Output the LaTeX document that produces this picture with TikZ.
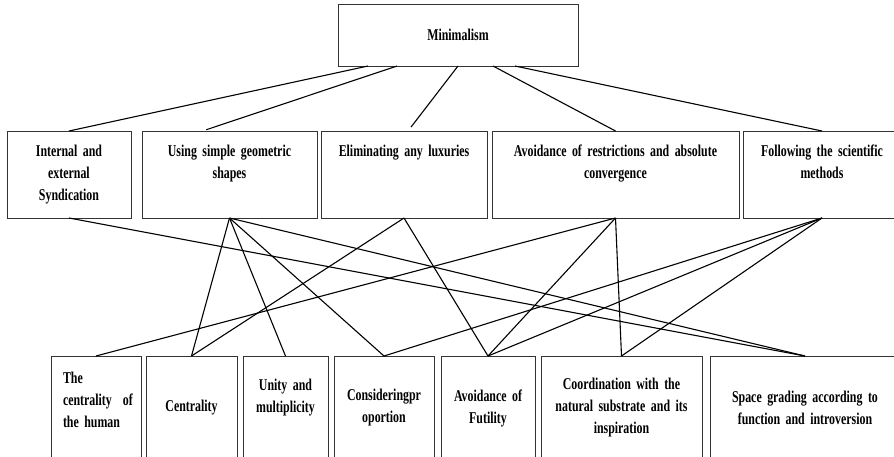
\documentclass[tikz,border=0pt]{standalone}
\usepackage{fontspec}
\setmainfont{Liberation Serif}[FakeStretch=0.72]
\usetikzlibrary{positioning}

\begin{document}
\begin{tikzpicture}[x=1pt, y=-1pt, node distance=5pt,
    every node/.style={draw=black!80, line width=0.8pt, inner sep=4pt, outer sep=0pt,
      font=\fontsize{16.5}{22}\selectfont\bfseries, align=center},
    midbox/.style={anchor=north west, inner ysep=13pt, text height=12pt, text depth=49pt},
    lowbox/.style={anchor=north west, minimum height=104pt},
    link/.style={line width=1.1pt, black}]
        \useasboundingbox (0,0) rectangle (894,456);

        % Root
        \node (mini) [minimum width=240pt, minimum height=62pt] at (458,35) {Minimalism};

        % Principles
        \node (internal) [midbox, text width=116pt] at (7,131) {Internal and\\ external\\ Syndication};
        \node (using) [midbox, text width=167pt, right=11pt of internal] {Using simple geometric\\ shapes};
        \node (elim) [midbox, text width=158pt, right=4pt of using] {Eliminating any luxuries};
        \node (avoid) [midbox, text width=239pt, right=5pt of elim] {Avoidance of restrictions and absolute\\ convergence};
        \node (follow) [midbox, text width=150pt, right=4pt of avoid] {Following the scientific\\ methods};

        % Features
        \node (human) [lowbox, text width=66pt, inner xsep=12pt, align=left,
          inner ysep=15pt, text height=12pt, text depth=62pt] at (51,356) {The\\ centrality~~of\\ the human};
        \node (central) [lowbox, text width=83pt, right=5pt of human] {Centrality};
        \node (unity) [lowbox, text width=77pt, right=6pt of central,
          inner ysep=10pt, text height=24pt, text depth=60pt] {Unity and\\ multiplicity};
        \node (consid) [lowbox, text width=92pt, right=6pt of unity] {Consideringpr\\ oportion};
        \node (futil) [lowbox, text width=86pt, right=7pt of consid] {Avoidance of\\ Futility};
        \node (coord) [lowbox, text width=153pt, right=6pt of futil] {Coordination with the\\ natural substrate and its\\ inspiration};
        \node (space) [lowbox, text width=182pt, right=8pt of coord] {Space grading according to\\ function and introversion};

        % Root to principles
        \draw[link] ([xshift=-90pt]mini.south) -- (internal.north);
        \draw[link, shorten >=4pt] ([xshift=-61pt]mini.south) -- ([xshift=-27pt]using.north);
        \draw[link, shorten >=5pt] (mini.south) -- ([xshift=4pt]elim.north);
        \draw[link] ([xshift=35pt]mini.south) -- (avoid.north);
        \draw[link] ([xshift=57pt]mini.south) -- (follow.north);

        % Principles to features
        \draw[link] (internal.south) -- (space.north);
        \draw[link] (using.south) -- (central.north);
        \draw[link] (using.south) -- (unity.north);
        \draw[link] (using.south) -- (consid.north);
        \draw[link] (using.south) -- (space.north);
        \draw[link] (elim.south) -- (central.north);
        \draw[link] (elim.south) -- (futil.north);
        \draw[link] (avoid.south) -- (human.north);
        \draw[link] (avoid.south) -- (futil.north);
        \draw[link] (avoid.south) -- (coord.north);
        \draw[link] (follow.south) -- (consid.north);
        \draw[link] (follow.south) -- (futil.north);
        \draw[link] (follow.south) -- (coord.north);
      \end{tikzpicture}
\end{document}
